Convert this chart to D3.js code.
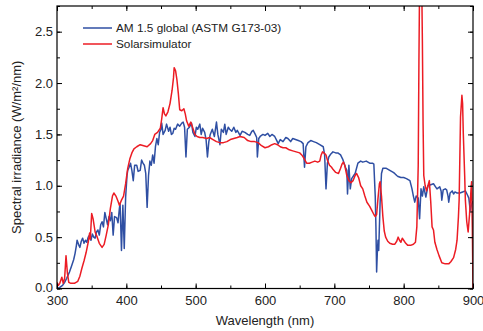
<!DOCTYPE html>
<html><head><meta charset="utf-8">
<script src="https://cdn.jsdelivr.net/npm/d3@7"></script>
<style>body{margin:0;background:#fff}svg{display:block}text{font-family:"Liberation Sans",Arial,sans-serif;fill:#222}</style>
</head><body><svg id="c" width="483" height="331"></svg>
<script>
const amWavelengths=[300,304,308,311,314,316,318,321,324,326,328,329,331,333,335,337,339,341,343,345,347,349,351,353,355,357,359,361,363,365,367,369,371,373,375,377,379,381,383,386,388,390,391,393,395,397,399,401,402,404,406,408,410,412,415,417,420,422,424,426,428,430,432,434,436,438,440,442,444,446,448,450,451,453,456,458,461,463,465,467,469,471,474,477,480,482,484,486,488,491,494,496,499,501,503,506,508,510,513,515,517,519,521,524,527,530,532,535,537,540,542,544,547,549,552,555,558,560,564,567,571,575,578,581,583,586,588,589,591,593,597,600,604,607,610,614,617,619,622,626,630,633,637,640,644,648,652,655,657,659,662,666,670,674,679,684,686,688,690,692,695,698,702,705,709,712,716,718,719,721,723,725,728,730,734,738,741,746,751,755,757,759,760,761,762,763,764,766,768,770,775,780,785,787,790,792,796,800,804,809,812,814,816,818,821,823,825,827,829,832,835,839,843,846,848,852,854,855,857,860,862,864,865,867,870,872,874,877,881,885,889,892,894,896,898,900];
const amIrradiance=[0,0.01,0.03,0.06,0.1,0.13,0.16,0.22,0.28,0.34,0.42,0.47,0.43,0.4,0.46,0.49,0.44,0.47,0.45,0.5,0.52,0.47,0.53,0.5,0.49,0.55,0.57,0.52,0.62,0.65,0.6,0.74,0.68,0.62,0.7,0.66,0.74,0.52,0.7,0.69,0.64,0.78,0.83,0.37,0.81,0.39,0.89,1.1,1.15,1.18,1.22,1.15,1.05,1.2,1.2,1.14,1.15,1.25,1.22,1.2,1.12,0.79,1.1,1.24,1.2,1.3,1.22,1.38,1.46,1.4,1.52,1.55,1.61,1.5,1.54,1.6,1.53,1.57,1.5,1.51,1.56,1.55,1.6,1.58,1.61,1.62,1.57,1.28,1.55,1.57,1.61,1.52,1.48,1.57,1.55,1.6,1.5,1.56,1.52,1.45,1.28,1.43,1.5,1.55,1.48,1.62,1.5,1.4,1.55,1.52,1.6,1.5,1.57,1.55,1.53,1.57,1.52,1.54,1.49,1.53,1.52,1.5,1.49,1.53,1.54,1.5,1.47,1.28,1.46,1.48,1.5,1.49,1.51,1.48,1.5,1.48,1.44,1.41,1.45,1.43,1.47,1.46,1.43,1.46,1.45,1.44,1.43,1.41,1.18,1.38,1.42,1.44,1.43,1.42,1.4,1.38,1.3,0.97,1.22,1.28,1.31,1.33,1.32,1.32,1.3,1.26,1.18,1.15,0.92,1.2,0.97,1.07,1.1,1.12,1.22,1.24,1.23,1.24,1.22,1.22,1.21,0.9,0.6,0.16,0.35,0.47,0.37,0.83,1.12,1.17,1.17,1.15,1.13,1.12,1.1,1.09,1.08,1.08,1.07,1.05,0.97,0.9,0.84,0.9,0.88,0.68,0.97,0.9,0.99,0.89,1.0,1.01,1.02,0.99,0.97,0.99,0.95,0.86,0.96,0.97,0.96,0.9,0.84,0.93,0.95,0.92,0.94,0.93,0.93,0.94,0.95,0.91,0.88,0.76,0.82,0.85];
const simWavelengths=[300,302,304,307,309,311,313,315,317,320,325,330,333,336,339,342,345,347,348,350,352,355,358,361,365,368,371,374,377,380,382,385,388,390,393,396,399,402,405,408,411,415,420,425,430,435,438,441,445,449,451,453,455,457,460,463,466,468,469,471,473,475,477,480,483,485,487,490,493,496,499,502,506,510,516,520,525,530,535,540,545,550,555,560,564,570,575,580,585,590,595,600,605,610,614,618,622,626,630,635,640,645,650,653,656,660,664,668,672,676,679,681,683,685,688,690,693,696,698,702,706,709,711,713,715,718,721,724,727,730,732,735,738,741,744,747,751,754,757,759,761,763,765,766,768,770,772,774,777,780,784,787,790,792,794,796,798,800,803,806,810,814,817,819,821,822,823,825,826,827,828,829,831,833,835,837,839,841,843,845,848,851,855,860,865,868,872,875,877,879,880,882,884,885,886,888,889,891,893,895,897,898,899,900];
const simIrradiance=[0.06,0.03,0.05,0.11,0.05,0.1,0.32,0.15,0.06,0.05,0.05,0.07,0.12,0.2,0.27,0.35,0.45,0.54,0.48,0.73,0.68,0.55,0.5,0.44,0.4,0.43,0.52,0.62,0.78,0.9,0.93,0.9,0.85,0.81,0.86,0.9,1.02,1.17,1.26,1.32,1.36,1.38,1.4,1.39,1.38,1.41,1.44,1.5,1.52,1.56,1.65,1.76,1.7,1.68,1.72,1.8,1.93,2.05,2.15,2.12,2.03,1.9,1.74,1.73,1.75,1.7,1.63,1.58,1.62,1.56,1.5,1.48,1.47,1.47,1.46,1.47,1.45,1.43,1.42,1.42,1.43,1.45,1.46,1.47,1.48,1.47,1.44,1.43,1.43,1.42,1.39,1.37,1.38,1.4,1.41,1.4,1.38,1.37,1.37,1.35,1.34,1.33,1.32,1.3,1.27,1.22,1.22,1.23,1.24,1.23,1.24,1.3,1.33,1.32,1.3,1.25,1.2,1.18,1.16,1.13,1.12,1.17,1.21,1.23,1.2,1.1,1.05,1.03,1.05,1.1,1.12,1.08,1.0,0.97,0.9,0.84,0.8,0.76,0.72,0.7,0.72,0.88,1.02,1.04,0.9,0.7,0.56,0.5,0.46,0.44,0.43,0.43,0.46,0.5,0.47,0.45,0.49,0.47,0.44,0.42,0.42,0.43,0.45,0.6,1.2,2.2,3.0,3.2,3.0,2.4,1.6,1.1,1.0,0.95,1.0,1.05,0.85,0.6,0.57,0.45,0.38,0.32,0.25,0.24,0.24,0.26,0.3,0.38,0.47,0.7,0.86,1.67,1.88,1.8,1.51,1.1,0.86,0.65,0.55,0.72,0.95,1.04,0.6,0];
const seriesNames=["AM 1.5 global (ASTM G173-03)","Solarsimulator"];
const seriesColors=["#2f4fa3","#ec1c24"];
const xTicks=[300,400,500,600,700,800,900];
const yTicks=[0.0,0.5,1.0,1.5,2.0,2.5];
const xTitle="Wavelength (nm)";
const yTitle="Spectral irradiance (W/m²/nm)";

const W=483,H=331,m={l:57,r:10,t:6,b:42.5};
const svg=d3.select("#c");
const x=d3.scaleLinear().domain([300,900]).range([m.l,W-m.r]);
const y=d3.scaleLinear().domain([0,2.75]).range([H-m.b,m.t]);
svg.append("defs").append("clipPath").attr("id","clip").append("rect")
  .attr("x",m.l).attr("y",m.t).attr("width",W-m.l-m.r).attr("height",H-m.t-m.b);

const line=d3.line().x(d=>x(d[0])).y(d=>y(d[1]));
const am=amWavelengths.map((w,i)=>[w,amIrradiance[i]]);
const sim=simWavelengths.map((w,i)=>[w,simIrradiance[i]]);
const g=svg.append("g").attr("clip-path","url(#clip)");
g.append("path").datum(am).attr("d",line).attr("fill","none").attr("stroke",seriesColors[0]).attr("stroke-width",1.5).attr("stroke-linejoin","round");
g.append("path").datum(sim).attr("d",line).attr("fill","none").attr("stroke",seriesColors[1]).attr("stroke-width",1.5).attr("stroke-linejoin","round");

function styleAxis(sel){sel.select(".domain").remove();sel.selectAll("line").attr("stroke","#000");sel.selectAll("text").attr("font-size",13).attr("fill","#222").style("font-family","Liberation Sans, Arial, sans-serif");}
const xMinor=d3.range(300,901,50), yMinor=d3.range(0,2.76,0.25);
svg.append("g").attr("transform",`translate(0,${H-m.b})`).call(d3.axisBottom(x).tickValues(xMinor).tickSize(-3).tickFormat("")).call(styleAxis);
svg.append("g").attr("transform",`translate(0,${H-m.b})`).call(d3.axisBottom(x).tickValues(xTicks).tickSize(-5).tickPadding(7).tickFormat(d3.format("d"))).call(styleAxis);
svg.append("g").attr("transform",`translate(0,${m.t})`).call(d3.axisTop(x).tickValues(xMinor).tickSize(-3).tickFormat("")).call(styleAxis);
svg.append("g").attr("transform",`translate(0,${m.t})`).call(d3.axisTop(x).tickValues(xTicks).tickSize(-5).tickFormat("")).call(styleAxis);
svg.append("g").attr("transform",`translate(${m.l},0)`).call(d3.axisLeft(y).tickValues(yMinor).tickSize(-3).tickFormat("")).call(styleAxis);
const yAx=svg.append("g").attr("transform",`translate(${m.l},0)`).call(d3.axisLeft(y).tickValues(yTicks).tickSize(-5).tickPadding(4).tickFormat(d3.format(".1f"))).call(styleAxis);
yAx.selectAll(".tick").filter(d=>d===0).select("text").attr("dy","0.2em");
svg.append("g").attr("transform",`translate(${W-m.r},0)`).call(d3.axisRight(y).tickValues(yMinor).tickSize(-3).tickFormat("")).call(styleAxis);
svg.append("g").attr("transform",`translate(${W-m.r},0)`).call(d3.axisRight(y).tickValues(yTicks).tickSize(-5).tickFormat("")).call(styleAxis);
svg.append("rect").attr("x",m.l).attr("y",m.t).attr("width",W-m.l-m.r).attr("height",H-m.t-m.b).attr("fill","none").attr("stroke","#000").attr("stroke-width",1.2);

svg.append("text").attr("x",(m.l+W-m.r)/2).attr("y",325).attr("text-anchor","middle").attr("font-size",13).text(xTitle);
svg.append("text").attr("transform",`translate(21,${(m.t+H-m.b)/2}) rotate(-90)`).attr("text-anchor","middle").attr("font-size",13).text(yTitle);

const leg=svg.append("g");
seriesNames.forEach((n,i)=>{
  const yy=28+i*16;
  leg.append("line").attr("x1",83).attr("x2",112).attr("y1",yy).attr("y2",yy).attr("stroke",seriesColors[i]).attr("stroke-width",1.5);
  leg.append("text").attr("x",116).attr("y",yy).attr("dy","0.35em").attr("font-size",11.8).text(n);
});
</script></body></html>
